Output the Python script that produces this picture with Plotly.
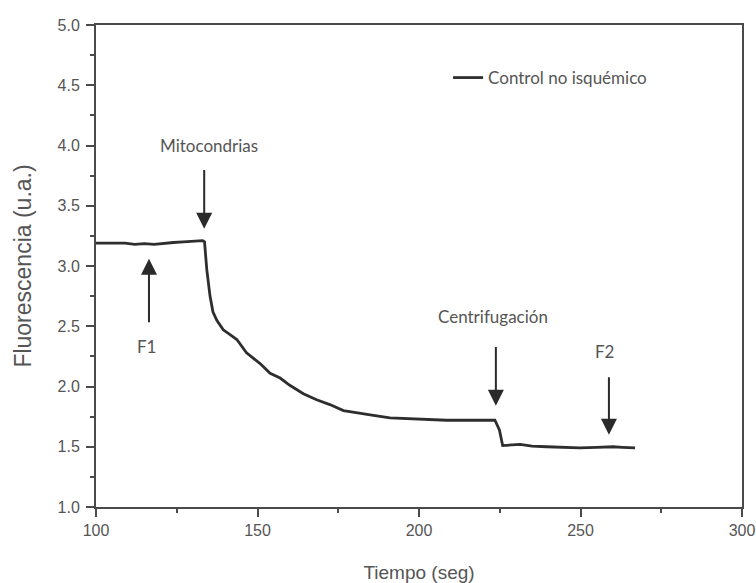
import plotly.graph_objects as go

# --- data ---
tiempo = [100, 103, 106, 109, 112, 115, 118, 121, 124, 127, 130, 133, 133.6,
          134.3, 135.3, 136.2, 137.4, 139.4, 141.5, 143.6, 146.6, 148.5, 150.8,
          153.9, 157, 160, 164.2, 168.3, 172.4, 176.6, 180.7, 185.9, 191, 198,
          203, 208.6, 213, 218.9, 223.5, 224.9, 225.9, 231.3, 235, 239.5, 244,
          249.8, 255, 260.1, 263, 266.9]
fluorescencia = [3.19, 3.19, 3.185, 3.19, 3.18, 3.185, 3.18, 3.19, 3.195, 3.20,
                 3.205, 3.21, 3.20, 2.97, 2.75, 2.62, 2.55, 2.47, 2.43, 2.39,
                 2.28, 2.24, 2.19, 2.11, 2.07, 2.01, 1.94, 1.89, 1.85, 1.80,
                 1.78, 1.76, 1.74, 1.73, 1.725, 1.72, 1.72, 1.72, 1.72, 1.64,
                 1.51, 1.52, 1.505, 1.50, 1.495, 1.49, 1.495, 1.50, 1.495, 1.49]
serie = "Control no isquémico"

# annotations: label, arrow x, arrow tip y, arrow tail y, text x, text y
etiquetas = ["Mitocondrias", "F1", "Centrifugación", "F2"]
flecha_x = [133.5, 116.4, 223.8, 258.8]
punta_y = [3.31, 3.06, 1.84, 1.60]
cola_y = [3.81, 2.52, 2.34, 2.09]
texto_x = [135, 115.7, 223, 257.3]
texto_y = [4.0, 2.33, 2.585, 2.29]

x_ticks = [100, 150, 200, 250, 300]
y_ticks = [1.0, 1.5, 2.0, 2.5, 3.0, 3.5, 4.0, 4.5, 5.0]

fig = go.Figure()
fig.add_trace(go.Scatter(x=tiempo, y=fluorescencia, mode="lines", name=serie,
                         line=dict(color="#2e2e2e", width=2.8)))

ann_font = dict(family="Lato", size=17, color="#555555")
for lab, ax_, tip, tail, tx, ty in zip(etiquetas, flecha_x, punta_y, cola_y, texto_x, texto_y):
    fig.add_annotation(x=ax_, y=tip, ax=ax_, ay=tail, xref="x", yref="y",
                       axref="x", ayref="y", text="", showarrow=True,
                       arrowhead=2, arrowsize=1.6, arrowwidth=2,
                       arrowcolor="#2a2a2a")
    fig.add_annotation(x=tx, y=ty, xref="x", yref="y", text=lab,
                       showarrow=False, font=ann_font)

axis_common = dict(showline=True, linecolor="#4a4a4a", linewidth=2, mirror=True,
                   ticks="outside", ticklen=8, tickwidth=2, tickcolor="#4a4a4a",
                   showgrid=False, zeroline=False, automargin=False,
                   ticklabeloverflow="allow",
                   tickfont=dict(family="Liberation Sans", size=16, color="#555555"))

fig.update_xaxes(range=[100, 300], tickvals=x_ticks, ticktext=[str(v) for v in x_ticks],
                 minor=dict(ticks="outside", ticklen=4, tickwidth=2, tickcolor="#4a4a4a", dtick=25),
                 title=dict(text="Tiempo (seg)", standoff=31,
                            font=dict(family="Liberation Sans", size=19, color="#555555")),
                 **axis_common)
fig.update_yaxes(range=[1.0, 5.0], tickvals=y_ticks, ticktext=[f"{v:.1f}" for v in y_ticks],
                 minor=dict(ticks="outside", ticklen=4, tickwidth=2, tickcolor="#4a4a4a", dtick=0.25),
                 title=dict(text="Fluorescencia (u.a.)", standoff=19,
                            font=dict(family="Liberation Sans", size=23, color="#555555")),
                 ticklabelstandoff=3,
                 **axis_common)

fig.update_layout(
    width=756, height=583,
    margin=dict(l=96, r=14, t=25, b=76),
    paper_bgcolor="white", plot_bgcolor="white",
    showlegend=True,
    legend=dict(x=0.545, y=0.89, xanchor="left", yanchor="middle",
                bgcolor="rgba(0,0,0,0)",
                font=dict(family="Lato", size=17, color="#555555")),
)

fig.write_html("out.html", config={"displayModeBar": False},
               post_script="document.body.style.margin='0';document.body.style.overflow='hidden';")
